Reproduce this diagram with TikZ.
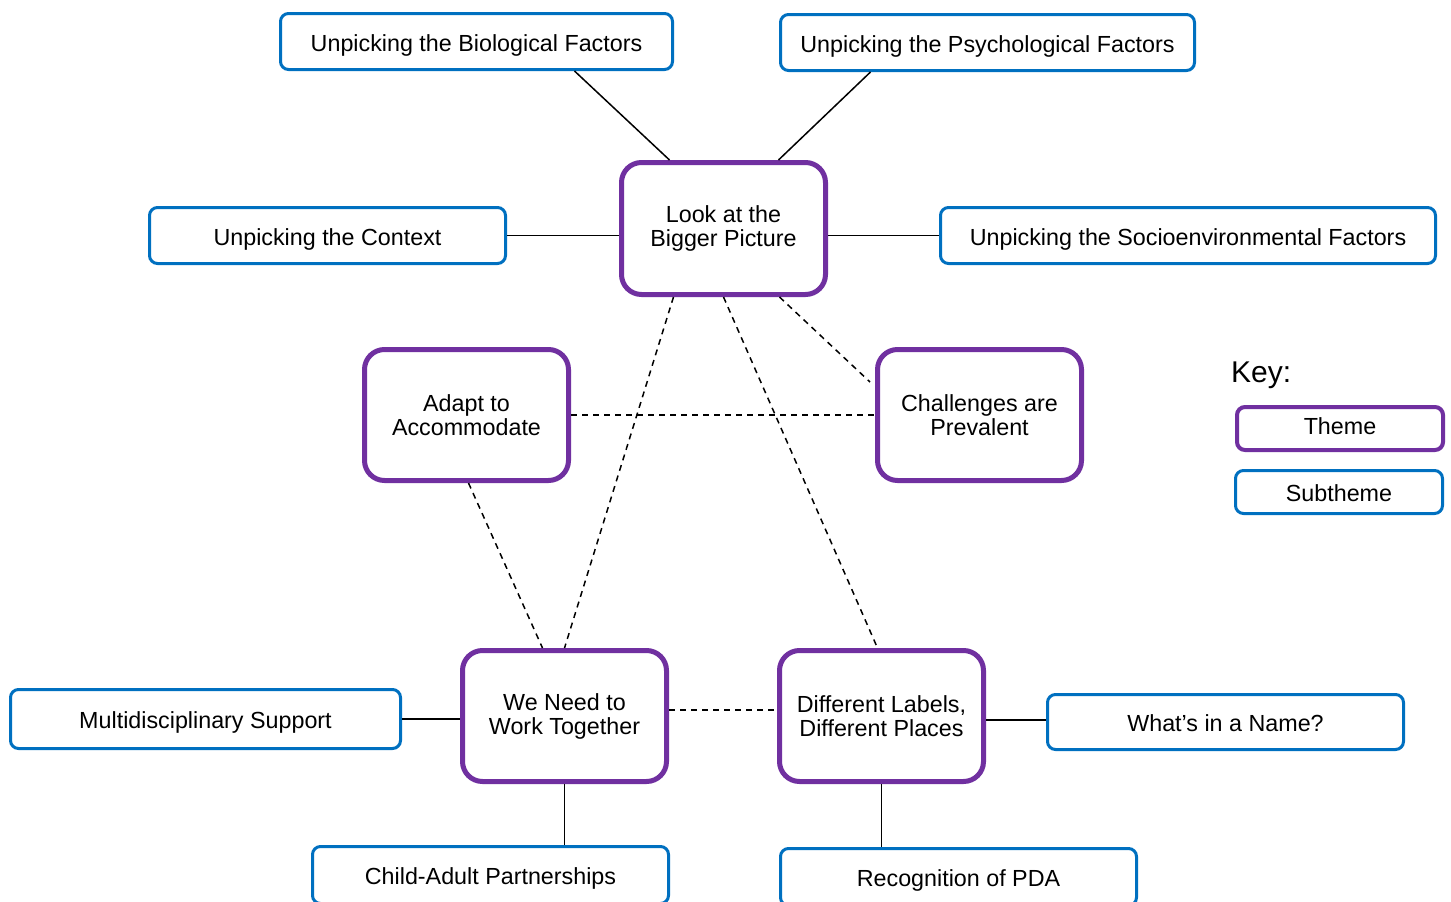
\documentclass[tikz,border=0pt]{standalone}
\usepackage{fontspec}
\setmainfont{Liberation Sans}
\definecolor{thpurple}{RGB}{112,48,160}
\definecolor{subblue}{RGB}{0,112,192}
\begin{document}
\begin{tikzpicture}[x=1pt,y=-1pt,
  sub/.style={draw=subblue, line width=3pt, rounded corners=8pt, fill=white, minimum height=56pt, inner sep=0pt, text height=19pt, text depth=0pt, font=\fontsize{23.3}{24}\selectfont},
  theme/.style={draw=thpurple, line width=5pt, rounded corners=20pt, fill=white, minimum width=204pt, minimum height=131pt, align=center, inner sep=0pt, font=\fontsize{23.3}{24}\selectfont},
  link/.style={line width=1.5pt},
  dlink/.style={line width=1.5pt, dash pattern=on 6pt off 5pt}]
\clip (0,0) rectangle (1451,902);
\fill[white] (0,0) rectangle (1451,902);

% subthemes
\node[sub, minimum width=392pt] (bio) at (476.5,41.5) {Unpicking the Biological Factors};
\node[sub, minimum width=414pt] (psych) at (987.5,42.5) {Unpicking the Psychological Factors};
\node[sub, minimum width=356pt] (context) at (327.5,235.5) {Unpicking the Context};
\node[sub, minimum width=495pt] (socio) at (1188,235.5) {Unpicking the Socioenvironmental Factors};
\node[sub, minimum width=390pt, minimum height=59pt] (multi) at (205.5,719) {Multidisciplinary Support};
\node[sub, minimum width=356pt, minimum height=55pt] (what) at (1225.5,722) {What’s in a Name?};
\node[sub, minimum width=356pt, minimum height=57pt] (child) at (490.5,875) {Child-Adult Partnerships};
\node[sub, minimum width=356pt, minimum height=57pt] (recog) at (958.5,877) {Recognition of PDA};

% themes
\node[theme, minimum height=132pt] (look) at (723.5,228.5) {Look at the\\Bigger Picture};
\node[theme] (adapt) at (466.5,415) {Adapt to\\Accommodate};
\node[theme] (chall) at (979.5,415) {Challenges are\\Prevalent};
\node[theme] (weneed) at (564.5,716) {We Need to\\Work Together};
\node[theme] (diff) at (881.5,716) {Different Labels,\\Different Places};

% key
\node[anchor=base west, inner sep=0pt, font=\fontsize{30}{32}\selectfont] (key) at (1231,382) {Key:};
\node[theme, line width=4pt, rounded corners=8pt, minimum width=206pt, minimum height=43pt, text depth=5pt] (ktheme) at (1340,428.5) {Theme};
\node[sub, minimum width=207pt, minimum height=43pt] (ksub) at (1339,492) {Subtheme};

% solid connectors
\draw[link] ([xshift=98pt]bio.south) -- ([xshift=-54pt]look.north);
\draw[link] ([xshift=-117pt]psych.south) -- ([xshift=55pt]look.north);
\draw[link] (context.east) -- (context.east -| look.west);
\draw[link] (look.east |- socio.west) -- (socio.west);
\draw[link] (multi.east) -- (multi.east -| weneed.west);
\draw[link] (weneed.south) -- (weneed.south |- child.north);
\draw[link] ([yshift=2pt]what.west -| diff.east) -- ([yshift=2pt]what.west);
\draw[link] (diff.south) -- (diff.south |- recog.north);

% dashed connectors
\draw[dlink] ([xshift=-50pt]look.south) -- (weneed.north);
\draw[dlink] (look.south) -- ([xshift=-4pt]diff.north);
\draw[dlink] ([xshift=56pt]look.south) -- ([xshift=-5pt,yshift=33pt]chall.west);
\draw[dlink] (adapt.east) -- (chall.west);
\draw[dlink] ([xshift=2pt]adapt.south) -- ([xshift=-22pt]weneed.north);
\draw[dlink] ([yshift=6pt]weneed.east) -- ([yshift=6pt]diff.west);
\end{tikzpicture}
\end{document}
